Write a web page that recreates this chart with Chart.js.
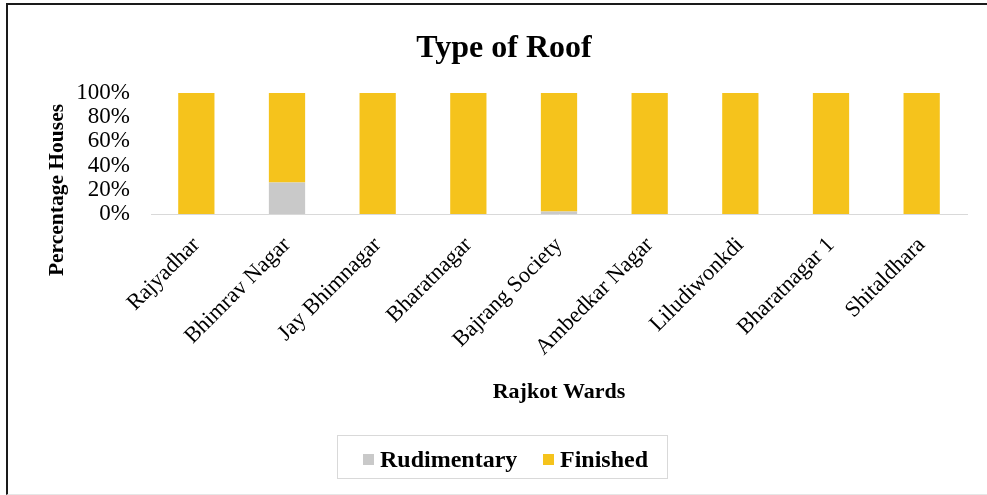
<!DOCTYPE html>
<html>
<head>
<meta charset="utf-8">
<script src="https://cdn.jsdelivr.net/npm/chart.js@4"></script>
<style>
  html, body { margin: 0; padding: 0; background: #fff; }
  #wrap { position: relative; width: 987px; height: 495px; overflow: hidden; }
  #frame { position: absolute; left: 6px; top: 3px; width: 1000px; height: 489px;
           border-top: 2px solid #1a1a1a; border-left: 2px solid #1a1a1a; border-bottom: 1px solid #e6e6e6; }
  canvas { position: absolute; left: 0; top: 0; }
</style>
</head>
<body>
<div id="wrap">
  <div id="frame"></div>
  <canvas id="roofChart" width="987" height="495"></canvas>
</div>
<script>
const wards = ['Rajyadhar', 'Bhimrav Nagar', 'Jay Bhimnagar', 'Bharatnagar', 'Bajrang Society',
               'Ambedkar Nagar', 'Liludiwonkdi', 'Bharatnagar 1', 'Shitaldhara'];
const rudimentary = [0, 26, 0, 0, 2, 0, 0, 0, 0];
const finished = [100, 74, 100, 100, 98, 100, 100, 100, 100];
const yTicks = [0, 20, 40, 60, 80, 100];

const SERIF = '"Liberation Serif", "Times New Roman", serif';
const GREY = '#c9c9c9';
const YELLOW = '#f5c31c';

// titles + boxed legend drawn by hand so they sit where the original has them
const decor = {
    id: 'decor',
    afterDraw(chart) {
        const ctx = chart.ctx;
        ctx.save();
        ctx.fillStyle = '#000';
        ctx.textAlign = 'center';
        ctx.textBaseline = 'middle';

        ctx.font = 'bold 32px ' + SERIF;
        ctx.fillText('Type of Roof', 504, 49);

        ctx.font = 'bold 22px ' + SERIF;
        ctx.fillText('Rajkot Wards', 559, 392);

        ctx.save();
        ctx.translate(57, 190);
        ctx.rotate(-Math.PI / 2);
        ctx.font = 'bold 21.5px ' + SERIF;
        ctx.fillText('Percentage Houses', 0, 0);
        ctx.restore();

        // legend
        ctx.strokeStyle = '#d9d9d9';
        ctx.lineWidth = 1;
        ctx.strokeRect(337.5, 435.5, 330, 43);
        ctx.font = 'bold 24px ' + SERIF;
        ctx.textAlign = 'left';
        const items = [
            { label: chart.data.datasets[0].label, color: GREY, x: 363 },
            { label: chart.data.datasets[1].label, color: YELLOW, x: 543 }
        ];
        items.forEach(it => {
            ctx.fillStyle = it.color;
            ctx.fillRect(it.x, 454, 11, 11);
            ctx.fillStyle = '#000';
            ctx.fillText(it.label, it.x + 17, 461);
        });
        ctx.restore();
    }
};

new Chart(document.getElementById('roofChart'), {
    type: 'bar',
    data: {
        labels: wards,
        datasets: [
            { label: 'Rudimentary', data: rudimentary, backgroundColor: GREY },
            { label: 'Finished', data: finished, backgroundColor: YELLOW }
        ]
    },
    options: {
        responsive: false,
        animation: false,
        datasets: { bar: { categoryPercentage: 1, barPercentage: 0.4 } },
        layout: { padding: { left: 0, top: 93, right: 20, bottom: 0 } },
        plugins: {
            legend: { display: false },
            title: { display: false },
            tooltip: { enabled: false }
        },
        scales: {
            x: {
                stacked: true,
                grid: { display: false, drawTicks: false },
                border: { display: true, color: '#d9d9d9', width: 1 },
                ticks: {
                    color: '#000', padding: 18, autoSkip: false,
                    minRotation: 45, maxRotation: 45,
                    font: { family: SERIF, size: 22.5 }
                },
                afterFit(scale) { scale.height = 281; }
            },
            y: {
                stacked: true,
                min: 0, max: 100,
                afterBuildTicks(scale) { scale.ticks = yTicks.map(v => ({ value: v })); },
                grid: { display: false, drawTicks: false },
                border: { display: false },
                ticks: {
                    color: '#000', padding: 21, autoSkip: false,
                    font: { family: SERIF, size: 23 },
                    callback: v => v + '%'
                },
                afterFit(scale) { scale.width = 151; }
            }
        }
    },
    plugins: [decor]
});
</script>
</body>
</html>
